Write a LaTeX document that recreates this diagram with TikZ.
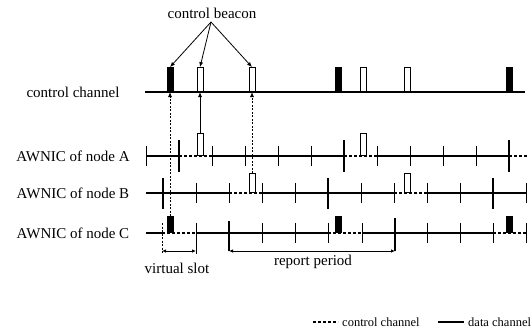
\documentclass[tikz,border=0pt]{standalone}
\usepackage{fontspec}
\setmainfont{Liberation Serif}
\usetikzlibrary{arrows.meta}
\begin{document}
\begin{tikzpicture}[x=1pt,y=-1pt,
  lbl/.style={font=\fontsize{15}{17}\selectfont, inner sep=0pt},
  leg/.style={font=\fontsize{12.5}{15}\selectfont, inner sep=0pt, anchor=west},
  data/.style={line width=1.2pt},
  ctrl/.style={line width=1.1pt, dash pattern=on 3pt off 2pt},
  tick/.style={line width=0.9pt},
  bigtick/.style={line width=2pt},
  hbeacon/.style={draw, line width=0.9pt, fill=white, inner sep=0pt,
                  minimum width=6pt, minimum height=22pt, anchor=south},
  fbeacon/.style={hbeacon, fill=black},
  tip/.style={-{Latex[length=5pt,width=4pt]}, line width=0.8pt},
  dtip/.style={{Latex[length=4pt,width=3.5pt]}-{Latex[length=4pt,width=3.5pt]}, line width=0.9pt},
  dotted link/.style={dash pattern=on 2pt off 1.5pt},
]
\useasboundingbox (0,0) rectangle (532,332);

% row labels
\node[lbl] (lcc) at (73,92)  {control channel};
\node[lbl] (la)  at (73,156) {AWNIC of node A};
\node[lbl] (lb)  at (73,193) {AWNIC of node B};
\node[lbl] (lc)  at (73,233) {AWNIC of node C};

% control channel
\draw[line width=1.3pt] (145,92) -- (525,92);

% AWNIC of node A
\draw[data] (146,156) -- (179,156) (212,156) -- (344,156) (377,156) -- (509,156);
\draw[ctrl] (179,156) -- (212,156) (344,156) -- (377,156) (509,156) -- (528,156);
\foreach \x in {146,212,245,278,311,377,410,443,476}
  \draw[tick] (\x,146) -- (\x,166);
\foreach \x in {179,344,509}
  \draw[bigtick] (\x,140) -- (\x,172);

% AWNIC of node B
\draw[data] (146,193) -- (229,193) (262,193) -- (394,193) (427,193) -- (526,193);
\draw[ctrl] (229,193) -- (262,193) (394,193) -- (427,193);
\foreach \x in {196,229,262,295,361,394,427,460,526}
  \draw[tick] (\x,183) -- (\x,203);
\foreach \x in {163,328,493}
  \draw[bigtick] (\x,178) -- (\x,209);

% AWNIC of node C
\draw[data] (146,233) -- (162,233) (196,233) -- (328,233) (362,233) -- (493,233);
\draw[ctrl] (162,233) -- (196,233) (328,233) -- (362,233) (493,233) -- (526,233);
\foreach \x in {262,295,328,362,427,460,493,526}
  \draw[tick] (\x,223) -- (\x,243);
\draw[tick, dotted link] (162,223) -- (162,254);
\draw[tick] (196,223) -- (196,254);
\draw[line width=1.2pt] (229,221) -- (229,251);
\draw[line width=1.5pt] (395,218) -- (395,251);

% beacons on the control channel
\node[fbeacon, minimum height=24pt] (cc1) at (170,92) {};
\node[hbeacon, minimum height=24pt] (cc2) at (200,92) {};
\node[hbeacon, minimum height=24pt] (cc3) at (252,92) {};
\node[fbeacon, minimum height=24pt] (cc4) at (338,92) {};
\node[hbeacon, minimum height=24pt] (cc5) at (363,92) {};
\node[hbeacon, minimum height=24pt] (cc6) at (407,92) {};
\node[fbeacon, minimum height=24pt] (cc7) at (509,92) {};

% beacons of the nodes
\node[hbeacon] (a1) at (200,156) {};
\node[hbeacon] (a2) at (363,156) {};
\node[hbeacon, minimum height=19pt] (b1) at (252,193) {};
\node[hbeacon, minimum height=19pt] (b2) at (407,193) {};
\node[fbeacon, minimum height=16pt] (c1) at (170,233) {};
\node[fbeacon, minimum height=16pt] (c2) at (338,233) {};
\node[fbeacon, minimum height=16pt] (c3) at (509,233) {};

% beacons forwarded to the control channel
\draw[tip] (a1.north) -- (cc2.south);
\draw[tip, dotted link] (b1.north) -- (cc3.south);
\draw[tip, dotted link] (c1.north) -- (cc1.south);

% control beacon label
\node[lbl] (cb) at (212,13) {control beacon};
\coordinate (cbo) at (211,22);
\draw[tip] (cbo) -- (cc1.north);
\draw[tip] (cbo) -- (cc2.north);
\draw[tip] (cbo) -- (cc3.north);

% virtual slot and report period
\coordinate (vs1) at (162,251);
\coordinate (vs2) at (196,251);
\draw[dtip] (vs1) -- (vs2);
\node[lbl] (vsl) at (177,268) {virtual slot};
\coordinate (rp1) at (229,251);
\coordinate (rp2) at (395,251);
\draw[dtip] (rp1) -- (rp2);
\node[lbl] (rpl) at (313,262) {report period};

% legend
\coordinate (lg1) at (313,322);
\coordinate (lg2) at (338,322);
\draw[ctrl] (lg1) -- (lg2);
\node[leg] (lgc) at (342,322) {control channel};
\coordinate (lg3) at (438,322);
\coordinate (lg4) at (464,322);
\draw[line width=1.3pt] (lg3) -- (lg4);
\node[leg] (lgd) at (468,322) {data channel};
\end{tikzpicture}
\end{document}
